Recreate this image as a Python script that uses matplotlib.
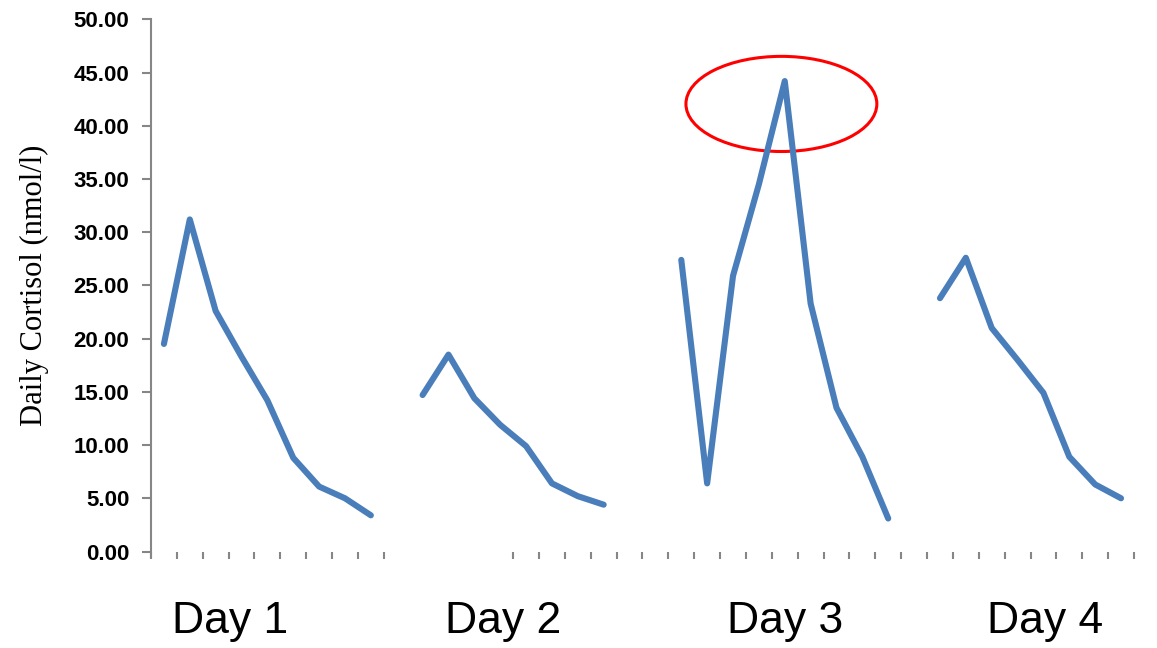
import numpy as np
import matplotlib as mpl
mpl.use('Agg')
import matplotlib.pyplot as plt
from matplotlib.patches import Ellipse

# daily cortisol readings (nmol/l), one list per day
day1 = [19.5, 31.2, 22.6, 18.3, 14.2, 8.8, 6.1, 5.0, 3.4]
day2 = [14.7, 18.5, 14.4, 11.9, 9.9, 6.4, 5.2, 4.4]
day3 = [27.4, 6.4, 25.9, 34.5, 44.2, 23.3, 13.5, 8.9, 3.1]
day4 = [23.8, 27.6, 21.0, 18.0, 14.9, 8.9, 6.3, 5.0]
days = [day1, day2, day3, day4]
day_start = [0, 10, 20, 30]      # category slot where each day begins
day_labels = ['Day 1', 'Day 2', 'Day 3', 'Day 4']
n_slots = 38
missing_ticks = [10, 11, 12, 13]  # category boundaries without a tick mark

yticks = np.arange(0, 50.01, 5)

# highlighted peak (data coords)
ell_center = (23.87, 42.05)
ell_w, ell_h = 7.38, 8.94

line_col = '#4a7ebb'
axis_col = '#868686'

fig = plt.figure(figsize=(11.57, 6.48), dpi=100)
ax = fig.add_axes([0.1305, 0.1489, 0.8496, 0.8213])

for d, s in zip(days, day_start):
    x = np.arange(s, s + len(d))
    ax.plot(x, d, color=line_col, linewidth=4.4, solid_capstyle='round',
            solid_joinstyle='round')

ax.add_patch(Ellipse(ell_center, ell_w, ell_h, fill=False,
                     edgecolor='#ff0000', linewidth=2.2))

ax.set_xlim(-0.5, n_slots - 0.5)
ax.set_ylim(0, 50)

bounds = [k - 0.5 for k in range(n_slots + 1) if k not in missing_ticks]
ax.set_xticks(bounds)
ax.set_xticklabels([])
ax.set_yticks(yticks)
ax.set_yticklabels(['%.2f' % v for v in yticks],
                   fontfamily='Liberation Sans', fontweight='bold', fontsize=16)

for side in ['top', 'right', 'bottom']:
    ax.spines[side].set_visible(False)
ax.spines['left'].set_color(axis_col)
ax.spines['left'].set_linewidth(1.5)
ax.spines['left'].set_bounds(-0.5, 50)

ax.tick_params(axis='y', direction='out', length=6.5, width=1.5,
               color=axis_col, pad=9)
ax.tick_params(axis='x', direction='out', length=5, width=1.5,
               color=axis_col)

ax.set_ylabel('Daily Cortisol (nmol/l)', fontfamily='Liberation Serif',
              fontsize=22)
ax.yaxis.set_label_coords(-0.104, 0.5)

lab_x = [0.199, 0.435, 0.679, 0.903]
for lx, lab in zip(lab_x, day_labels):
    fig.text(lx, 0.023, lab, ha='center', va='baseline',
             fontfamily='Liberation Sans', fontsize=32)

fig.savefig('out.png', dpi=100)
plt.close()
